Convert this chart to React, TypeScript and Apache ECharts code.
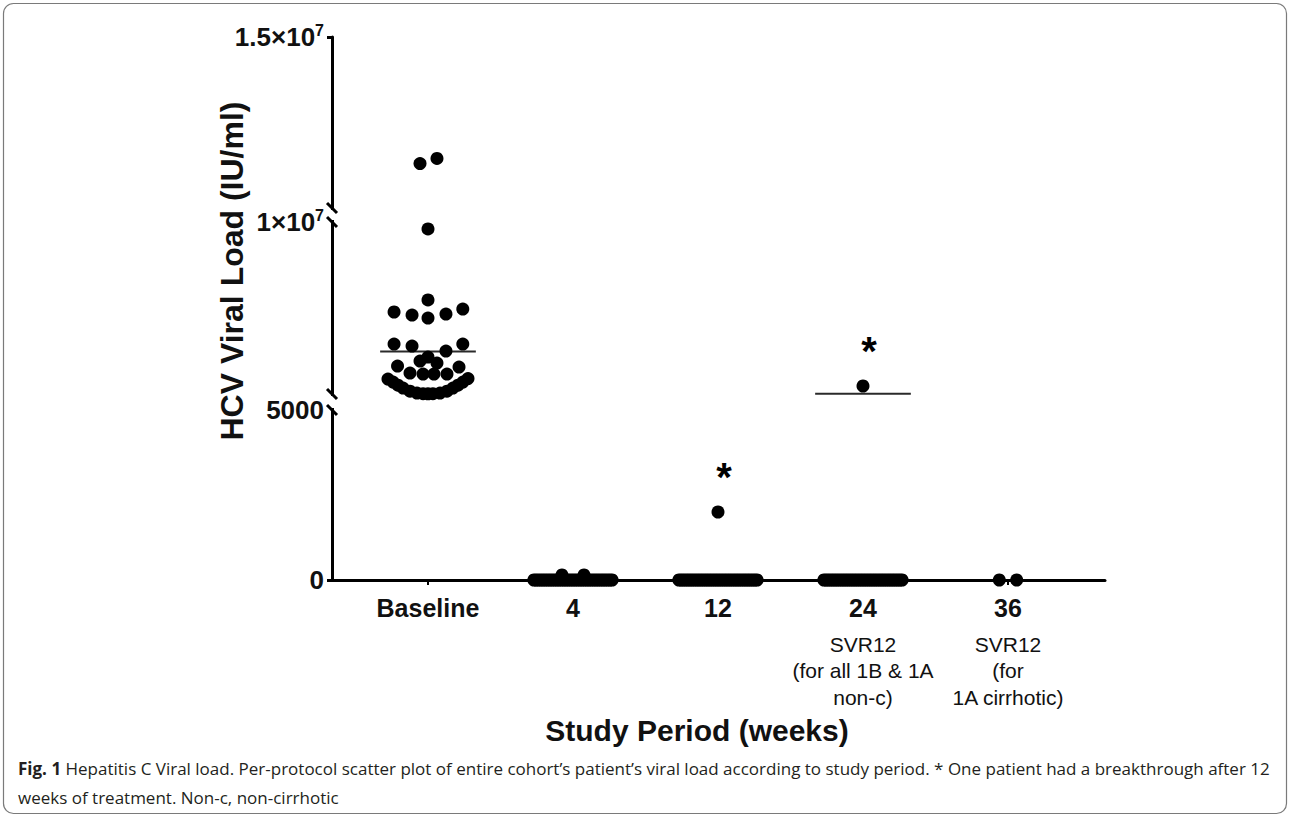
import React, { useEffect, useRef } from "react";
import * as echarts from "echarts";

// ---------- data ----------
const categories = ["Baseline", "4", "12", "24", "36"];
const subLabels = ["", "", "", "SVR12\n(for all 1B & 1A\nnon-c)", "SVR12\n(for\n1A cirrhotic)"];

const yTickValues = [0, 5000, 10000000, 15000000];
const yTickLabels = ["{m|0}", "{m|5000}", "{m|1×10}{p|7}", "{m|1.5×10}{p|7}"];

const baselineValues = [
  11450000, 11300000, 9600000, 5470000,
  4770000, 4590000, 4420000, 4650000, 4940000,
  2910000, 2790000, 2500000, 2910000,
  2150000, 1920000, 1800000, 1630000, 1570000,
  1220000, 1160000, 1160000, 1160000,
  870000, 700000, 520000, 350000, 170000, 60000, 20000, 15000, 20000, 60000, 170000, 350000, 520000, 700000, 900000,
];
const baselineOffsets = [
  0.062, -0.055, 0, 0,
  -0.234, -0.11, 0, 0.124, 0.24,
  -0.234, -0.11, 0.124, 0.24,
  0, -0.055, 0.062, -0.21, 0.214,
  -0.124, -0.034, 0.041, 0.131,
  -0.276, -0.241, -0.207, -0.172, -0.124, -0.076, -0.034, 0, 0.034, 0.083, 0.131, 0.172, 0.207, 0.241, 0.276,
];
const week4Values = [
  150, 150, 0, 0, 0, 0, 0, 0, 0, 0, 0, 0, 0, 0, 0, 0, 0, 0, 0,
  0, 0, 0, 0, 0, 0, 0, 0, 0, 0, 0, 0, 0, 0, 0, 0, 0, 0,
];
const week4NonZeroOffsets = [-0.076, 0.076];
const week12Values = [
  2000, 0, 0, 0, 0, 0, 0, 0, 0, 0, 0, 0, 0, 0, 0, 0, 0, 0, 0,
  0, 0, 0, 0, 0, 0, 0, 0, 0, 0, 0, 0, 0, 0, 0, 0, 0, 0,
];
const week12NonZeroOffsets = [0];
const week24Values = [
  470000, 0, 0, 0, 0, 0, 0, 0, 0, 0, 0, 0, 0, 0, 0, 0, 0, 0, 0,
  0, 0, 0, 0, 0, 0, 0, 0, 0, 0, 0, 0, 0, 0, 0, 0, 0, 0,
];
const week24NonZeroOffsets = [0];
const week36Values = [0, 0];
const week36NonZeroOffsets: number[] = [];

const asteriskGroups = ["12", "24"];

const captionLine1 =
  "Hepatitis C Viral load. Per-protocol scatter plot of entire cohort’s patient’s viral load according to study period. * One patient had a breakthrough after 12";
const captionLine2 = "weeks of treatment. Non-c, non-cirrhotic";

// ---------- scale (broken axis: 0–5000 | 5000–1e7 | 1e7–1.5e7) ----------
function toDisplay(v: number): number {
  if (v <= 5000) return (v / 5000) * 170;
  if (v <= 10000000) return 186 + ((v - 5000) / (10000000 - 5000)) * 172;
  return 372 + ((v - 10000000) / 5000000) * 171;
}
const breakPairs = [
  [toDisplay(5000), toDisplay(5001)],
  [toDisplay(10000000), toDisplay(10000001)],
];

const FONT = "'Liberation Sans', Arial, Helvetica, sans-serif";
const CAPTION_FONT = "'Open Sans', sans-serif";
const X_MIN = -0.662;
const X_MAX = 4.669;

const groups = [
  { values: baselineValues, offsets: baselineOffsets, spread: 0 },
  { values: week4Values, offsets: week4NonZeroOffsets, spread: 0.27 },
  { values: week12Values, offsets: week12NonZeroOffsets, spread: 0.27 },
  { values: week24Values, offsets: week24NonZeroOffsets, spread: 0.27 },
  { values: week36Values, offsets: week36NonZeroOffsets, spread: 0.06 },
];

function buildPoints() {
  const pts: any[] = [];
  groups.forEach((g, gi) => {
    if (g.spread === 0) {
      g.values.forEach((v, k) => pts.push({ value: [gi + g.offsets[k], toDisplay(v)] }));
      return;
    }
    const nonZero = g.values.filter((v) => v !== 0);
    const zeros = g.values.filter((v) => v === 0);
    const maxV = Math.max(...g.values);
    nonZero.forEach((v, k) => {
      const item: any = { value: [gi + (g.offsets[k] || 0), toDisplay(v)] };
      if (asteriskGroups.includes(categories[gi]) && v === maxV) {
        item.label = {
          show: true,
          formatter: "*",
          position: "inside",
          offset: [6, -35],
          fontSize: 40,
          fontWeight: "bold",
          fontFamily: FONT,
          color: "#000",
        };
      }
      pts.push(item);
    });
    const n = zeros.length;
    zeros.forEach((v, k) => {
      const off = n > 1 ? -g.spread + (k * 2 * g.spread) / (n - 1) : 0;
      pts.push({ value: [gi + off, toDisplay(v)] });
    });
  });
  return pts;
}

function buildMeanSeries() {
  const out: any[] = [];
  groups.forEach((g, gi) => {
    const mean = g.values.reduce((a, b) => a + b, 0) / g.values.length;
    const d = toDisplay(mean);
    if (d < 4) return; // hidden under the dots on the axis in the original
    out.push({
      type: "line",
      silent: true,
      symbol: "none",
      z: 2,
      lineStyle: { color: "#2a2a2a", width: 2 },
      data: [
        [gi - 0.33, d],
        [gi + 0.33, d],
      ],
    });
  });
  return out;
}

export default function App() {
  const ref = useRef<HTMLDivElement>(null);

  useEffect(() => {
    if (!ref.current) return;
    const chart = echarts.init(ref.current, null, { renderer: "svg" });
    const yMax = toDisplay(15000000);
    const tickDisplay = yTickValues.map(toDisplay);

    chart.setOption({
      animation: false,
      backgroundColor: "#fff",
      grid: { left: 332, right: 185, top: 37, bottom: 236 },
      xAxis: {
        type: "value",
        min: X_MIN,
        max: X_MAX,
        splitLine: { show: false },
        axisLine: { show: true, onZero: false, lineStyle: { color: "#000", width: 3 } },
        axisTick: { show: true, customValues: [0, 1, 2, 3, 4], length: 5, lineStyle: { color: "#000", width: 2 } },
        axisLabel: {
          customValues: [0, 1, 2, 3, 4],
          margin: 5,
          formatter: (v: number) => {
            const i = Math.round(v);
            let s = `{b|${categories[i]}}`;
            if (subLabels[i]) s += "\n" + subLabels[i].split("\n").map((l) => `{s|${l}}`).join("\n");
            return s;
          },
          rich: {
            b: { fontSize: 25, fontWeight: "bold", fontFamily: FONT, color: "#111", lineHeight: 46 },
            s: { fontSize: 21, fontFamily: FONT, color: "#111", lineHeight: 26.5 },
          },
        },
      },
      yAxis: {
        type: "value",
        min: 0,
        max: yMax,
        splitLine: { show: false },
        axisLine: { show: true, onZero: false, lineStyle: { color: "#000", width: 3 } },
        axisTick: { show: true, customValues: [0, yMax], length: 5, lineStyle: { color: "#000", width: 3 } },
        axisLabel: {
          customValues: tickDisplay,
          margin: 8,
          formatter: (v: number) => {
            let best = 0;
            tickDisplay.forEach((t, i) => {
              if (Math.abs(t - v) < Math.abs(tickDisplay[best] - v)) best = i;
            });
            return yTickLabels[best];
          },
          rich: {
            m: { fontSize: 26, fontWeight: "bold", fontFamily: FONT, color: "#111", lineHeight: 30 },
            p: { fontSize: 16, fontWeight: "bold", fontFamily: FONT, color: "#111", lineHeight: 18, verticalAlign: "top" },
          },
        },
      },
      series: [
        ...buildMeanSeries(),
        {
          type: "scatter",
          z: 3,
          clip: false,
          symbol: "circle",
          symbolSize: 13,
          itemStyle: { color: "#000", opacity: 1 },
          data: buildPoints(),
        },
      ],
    });

    const ax = chart.convertToPixel({ xAxisIndex: 0 } as any, X_MIN) as unknown as number;
    const py = (d: number) => chart.convertToPixel({ yAxisIndex: 0 } as any, d) as unknown as number;

    const breakEls: any[] = [];
    breakPairs.forEach(([lowD, highD]) => {
      const yLow = py(lowD);
      const yHigh = py(highD);
      breakEls.push({
        type: "rect",
        z: 100,
        shape: { x: ax - 4, y: yHigh + 2, width: 8, height: yLow - yHigh - 4 },
        style: { fill: "#fff" },
      });
      [yHigh, yLow].forEach((y) => {
        breakEls.push({
          type: "line",
          z: 101,
          shape: { x1: ax - 5, y1: y - 5, x2: ax + 5, y2: y + 5 },
          style: { stroke: "#000", lineWidth: 3 },
        });
      });
    });

    const centered = {
      align: "center",
      verticalAlign: "middle",
      textAlign: "center",
      textVerticalAlign: "middle",
    };
    const leftMid = {
      align: "left",
      verticalAlign: "middle",
      textAlign: "left",
      textVerticalAlign: "middle",
    };

    chart.setOption({
      graphic: [
        {
          type: "rect",
          z: 50,
          shape: { x: 3.5, y: 3.5, width: 1283, height: 810, r: 10 },
          style: { fill: "none", stroke: "#7a7a7a", lineWidth: 1.2 },
        },
        ...breakEls,
        {
          type: "text",
          z: 100,
          x: 232,
          y: 271,
          rotation: Math.PI / 2,
          style: {
            text: "HCV Viral Load (IU/ml)",
            fontSize: 32,
            fontWeight: "bold",
            fontFamily: FONT,
            fill: "#111",
            ...centered,
          },
        },
        {
          type: "text",
          z: 100,
          x: 697,
          y: 730,
          style: {
            text: "Study Period (weeks)",
            fontSize: 30,
            fontWeight: "bold",
            fontFamily: FONT,
            fill: "#111",
            ...centered,
          },
        },
        {
          type: "text",
          z: 100,
          x: 18,
          y: 768,
          style: {
            text: "{b|Fig. 1} {r|" + captionLine1 + "}",
            rich: {
              b: { fontSize: 17, fontWeight: "bold", fontFamily: CAPTION_FONT, fill: "#231f20" },
              r: { fontSize: 17, fontFamily: CAPTION_FONT, fill: "#231f20" },
            },
            fontSize: 17,
            fontFamily: CAPTION_FONT,
            fill: "#231f20",
            ...leftMid,
          },
        },
        {
          type: "text",
          z: 100,
          x: 18,
          y: 797,
          style: {
            text: captionLine2,
            fontSize: 17,
            fontFamily: CAPTION_FONT,
            fill: "#231f20",
            ...leftMid,
          },
        },
      ],
    });

    return () => chart.dispose();
  }, []);

  return (
    <div
      ref={ref}
      style={{ position: "fixed", left: 0, top: 0, width: 1290, height: 816, background: "#fff" }}
    />
  );
}
